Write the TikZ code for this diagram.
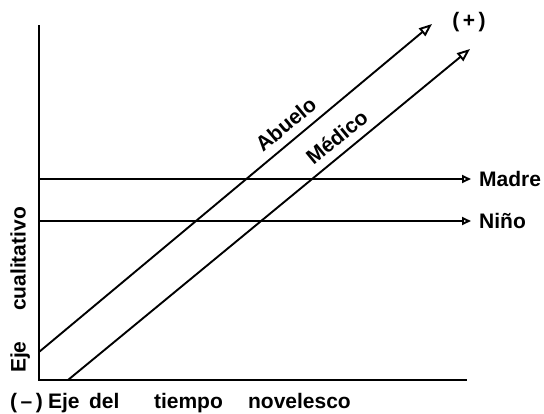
\documentclass[tikz,border=0pt]{standalone}
\usepackage{fontspec}
\setmainfont{Liberation Sans}
\usetikzlibrary{arrows.meta,positioning}
\tikzset{
  >={Triangle[open, length=9pt, width=8pt]},
  axis/.style   = { line width=2pt },
  track/.style  = { line width=1.9pt, ->, line join=round },
  rising/.style = { track, -{Triangle[open, length=13pt, width=10pt]} },
  lbl/.style    = { font=\fontsize{21}{25}\selectfont\bfseries, inner sep=0pt },
  tracklbl/.style = { lbl, sloped, above, inner xsep=0pt, inner ysep=8pt },
}
\begin{document}
\begin{tikzpicture}[x=1pt, y=-1pt]
  \useasboundingbox (0,0) rectangle (544,413);
  % axes
  \coordinate (O)    at (39,380);
  \coordinate (ytop) at (39,25);
  \coordinate (xend) at (467,380);
  \draw[axis] (ytop) -- (O) -- (xend);
  %% axis labels
  \node[lbl, anchor=base west] (tiempo) at (10,408.5)
    {(\,–\,)\hspace{0.25em}Eje\hspace{0.45em}del\hspace{1.65em}tiempo\hspace{1.2em}novelesco};
  \node[lbl, rotate=90, anchor=base] (cualit) at (25.5,290)
    {Eje\hspace{1.45em}cualitativo};
  % horizontal characters
  \coordinate (ma0) at (39,179);
  \node[lbl, inner xsep=8pt, anchor=west] (madre) at (471,179) {Madre};
  \draw[track] (ma0) -- (madre.west);
  \coordinate (ni0) at (39,221);
  \node[lbl, inner xsep=8pt, anchor=west] (nino) at (471,221) {Niño};
  \draw[track] (ni0) -- (nino.west);
  % rising characters
  \coordinate (ab0) at (39,352);
  \coordinate (ab1) at (432,24);
  \draw[rising] (ab0) -- node[tracklbl, pos=.655] (abuelo) {Abuelo} (ab1);
  \coordinate (me0) at (68,380);
  \coordinate (me1) at (470,49);
  \draw[rising] (me0) -- node[tracklbl, pos=.695] (medico) {Médico} (me1);
  \node[lbl] (plus) at (469,22) {(\,+\,)};
\end{tikzpicture}
\end{document}
